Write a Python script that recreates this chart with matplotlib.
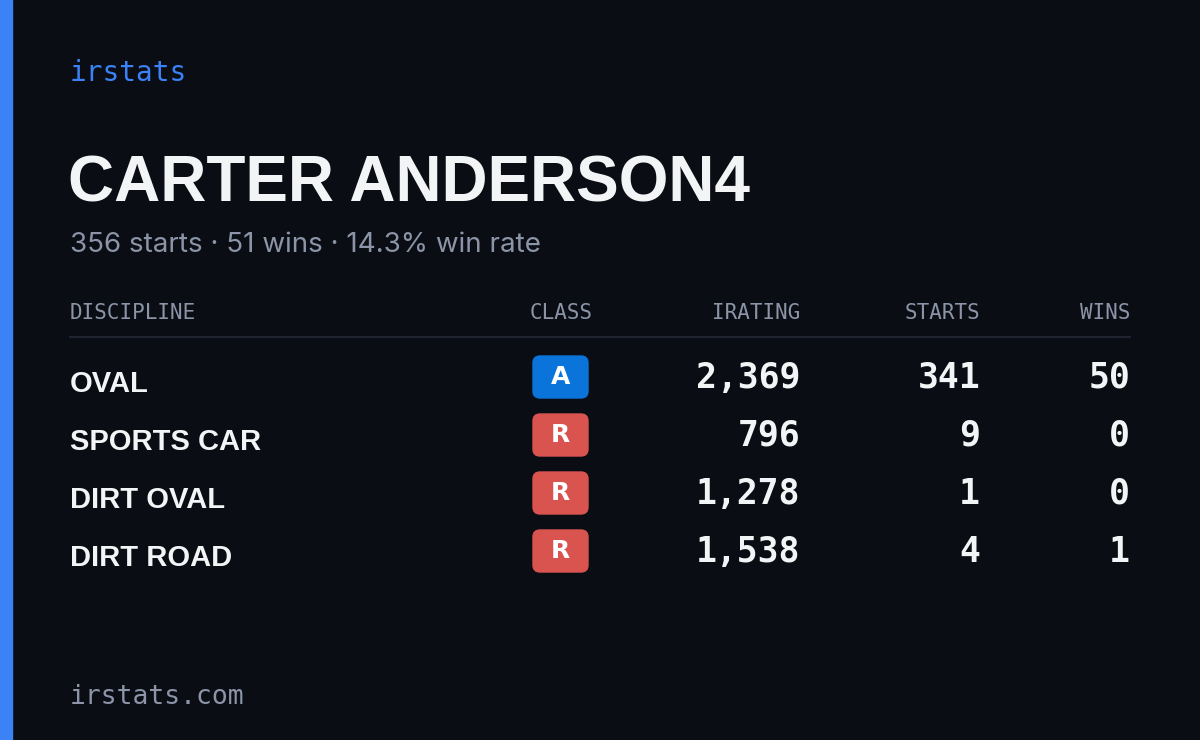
import matplotlib
matplotlib.use("Agg")
import matplotlib.pyplot as plt
from matplotlib.patches import Rectangle, FancyBboxPatch

brand = "irstats"
player = "CARTER ANDERSON4"
summary = "356 starts · 51 wins · 14.3% win rate"
headers = ["DISCIPLINE", "CLASS", "IRATING", "STARTS", "WINS"]
disciplines = ["OVAL", "SPORTS CAR", "DIRT OVAL", "DIRT ROAD"]
classes = ["A", "R", "R", "R"]
iratings = [2369, 796, 1278, 1538]
starts = [341, 9, 1, 4]
wins = [50, 0, 0, 1]
footer = "irstats.com"

W, H = 1200, 740
fig = plt.figure(figsize=(12, 7.4), dpi=100)
fig.patch.set_facecolor("#0a0d14")
ax = fig.add_axes([0, 0, 1, 1])
ax.set_xlim(0, W); ax.set_ylim(H, 0); ax.axis("off")
ax.set_facecolor("#0a0d14")

cond = ["Liberation Sans", "DejaVu Sans"]
mono = ["DejaVu Sans Mono"]
ax.add_patch(Rectangle((0, 0), 12, H, color="#3b82f6"))
ax.text(70, 73, brand, color="#3b82f6", fontsize=20, family=mono, va="center")
ax.text(68, 185, player, color="#f3f4f6", fontsize=46, family=cond, weight="bold", va="center")
ax.text(70, 245, summary, color="#8b95a7", fontsize=20, family=["Inter", "DejaVu Sans"], va="center")

hx = [70, 593, 800, 980, 1130]
ha = ["left", "right", "right", "right", "right"]
for x, h, a in zip(hx, headers, ha):
    ax.text(x, 313, h, color="#8b95a7", fontsize=15, family=mono, va="center", ha=a)
ax.plot([70, 1130], [337, 337], color="#1f2430", lw=1.5)

class_colors = {"A": "#0a74da", "R": "#d9534f"}
for i, d in enumerate(disciplines):
    y = 378 + 58 * i
    ax.text(70, y + 6, d, color="#f3f4f6", fontsize=21, family=cond, weight="bold", va="center")
    ax.add_patch(FancyBboxPatch((533, y - 22), 55, 42, boxstyle="round,pad=0,rounding_size=7",
                                color=class_colors[classes[i]]))
    ax.text(560.5, y - 1, classes[i], color="white", fontsize=18, weight="bold",
            family=["DejaVu Sans"], ha="center", va="center")
    for x, v in zip([800, 980, 1130], [iratings[i], starts[i], wins[i]]):
        ax.text(x, y, f"{v:,}", color="#f3f4f6", fontsize=25, family=mono, weight="bold",
                ha="right", va="center")

ax.text(70, 697, footer, color="#8b95a7", fontsize=19, family=mono, va="center")
fig.savefig("out.png", dpi=100, facecolor=fig.get_facecolor())
